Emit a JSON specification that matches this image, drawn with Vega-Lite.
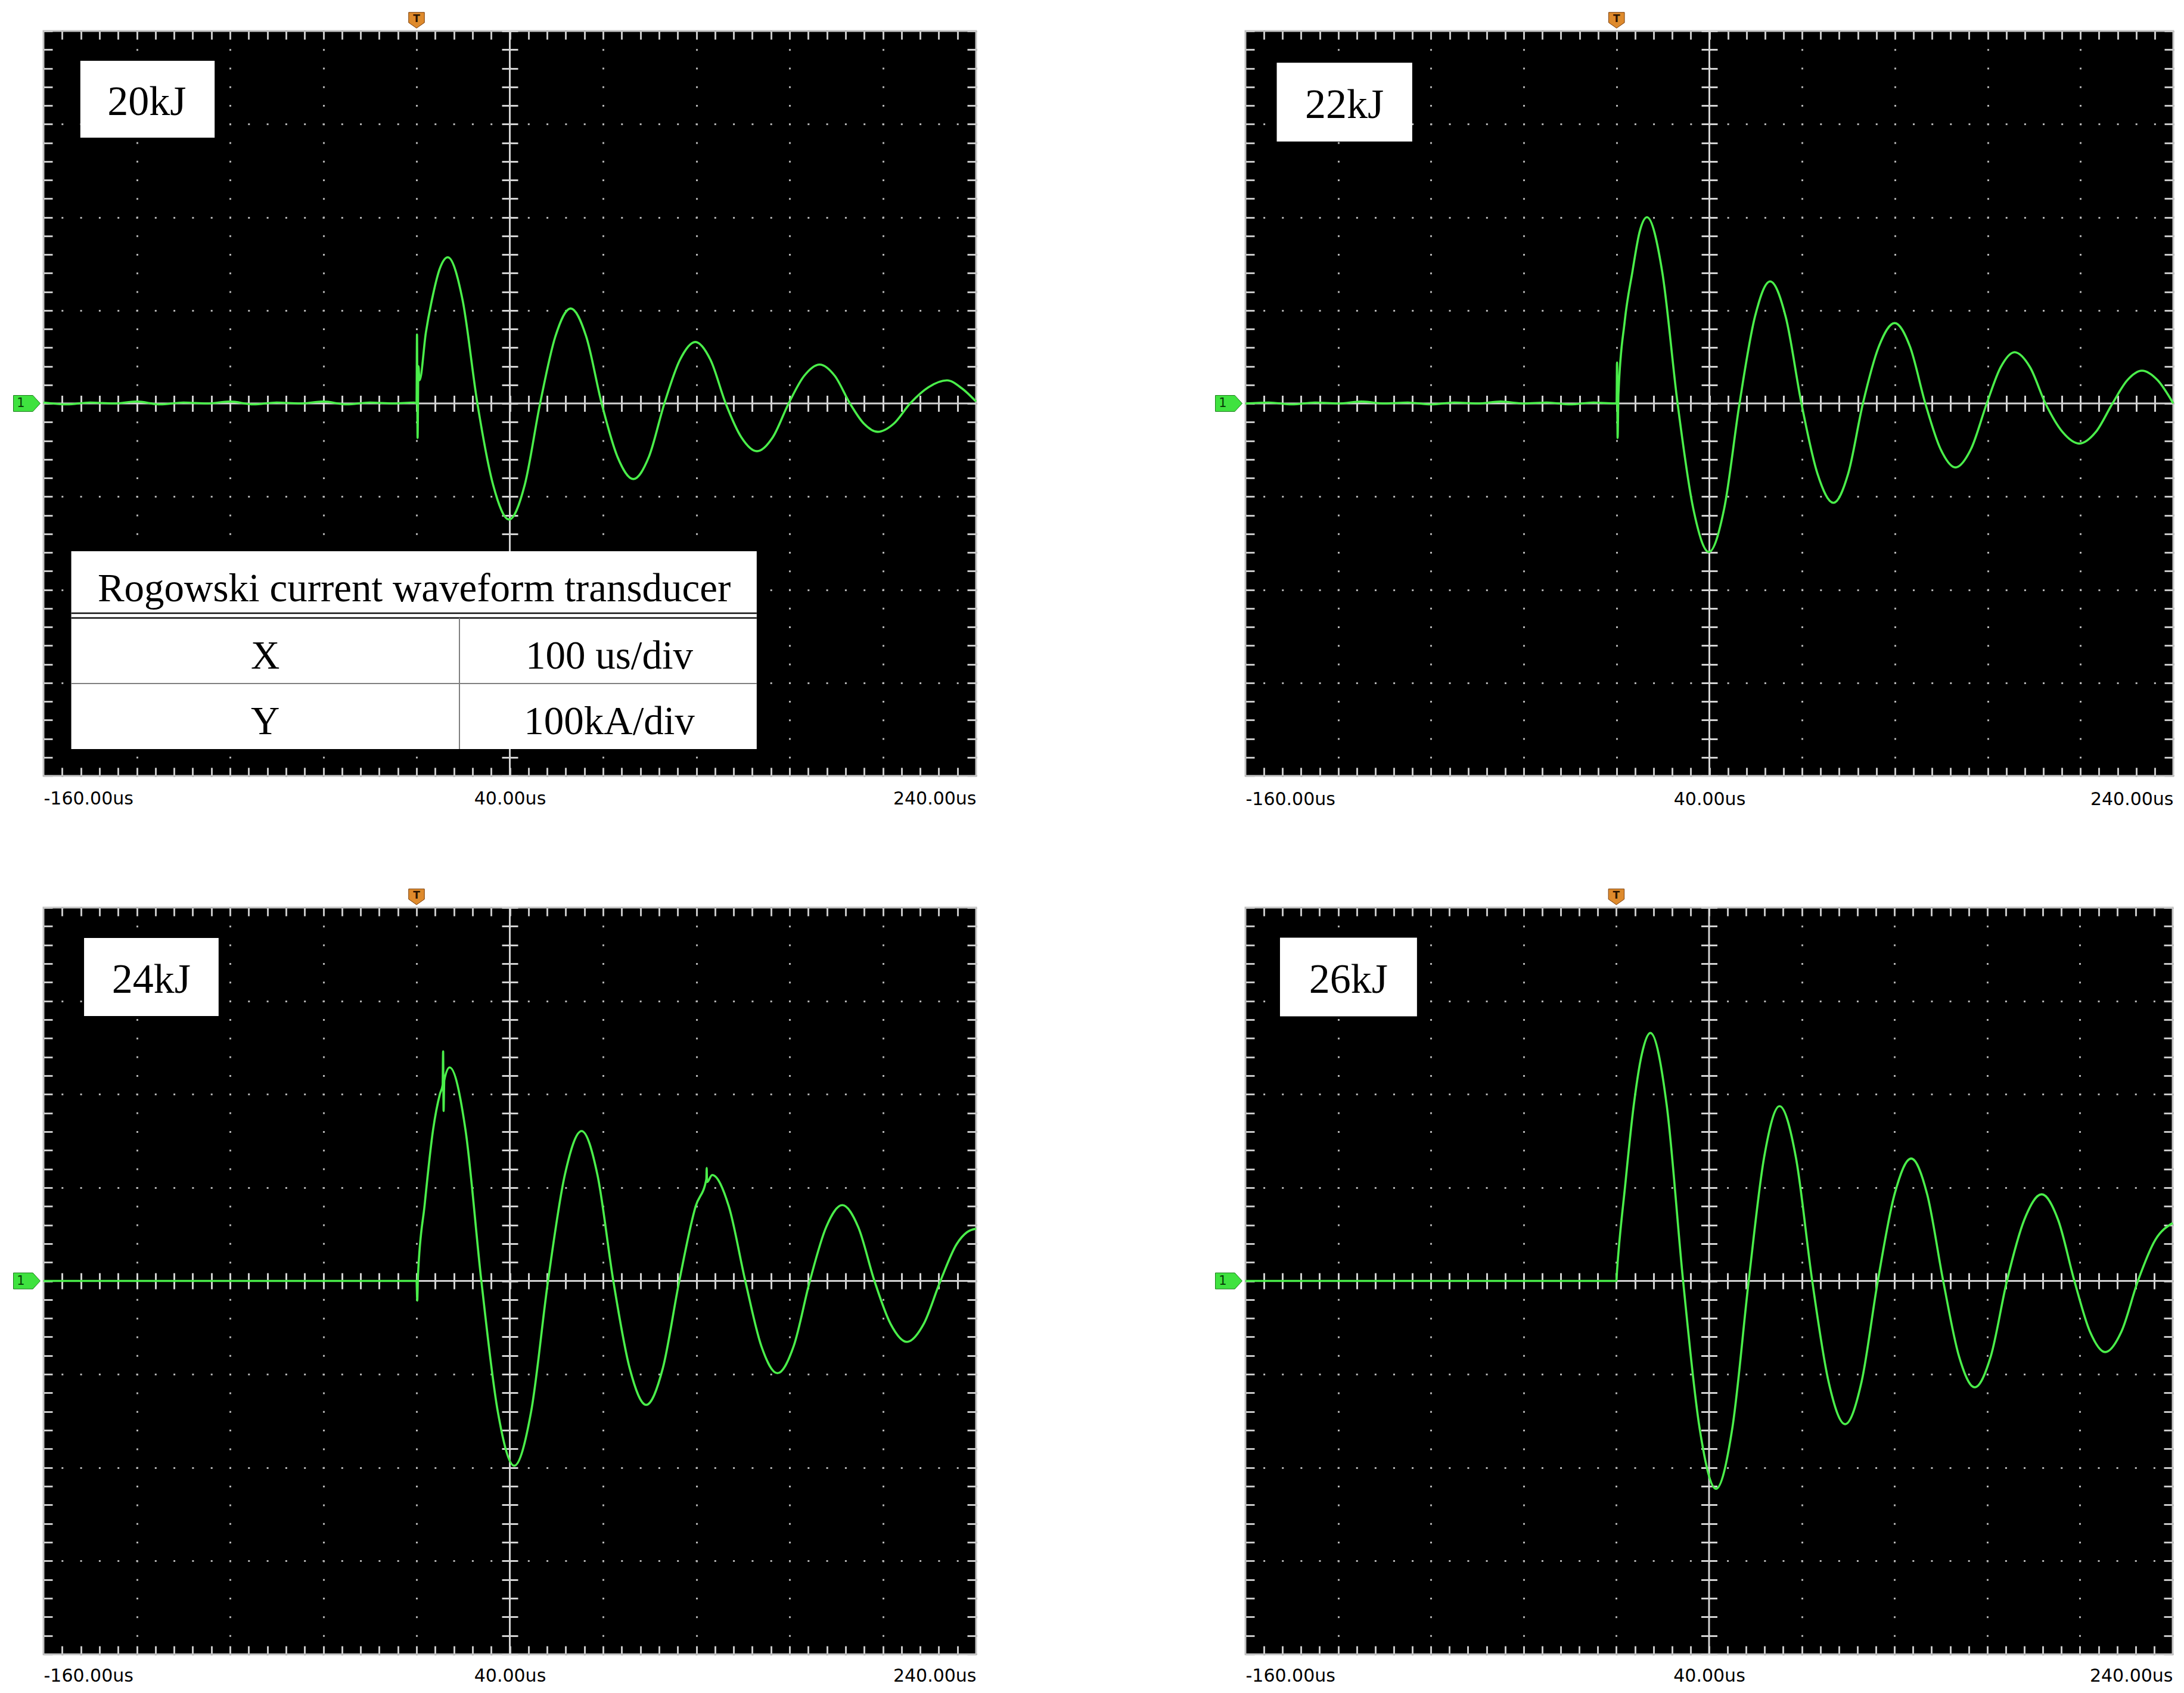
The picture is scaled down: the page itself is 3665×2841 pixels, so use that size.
{
"$schema": "https://vega.github.io/schema/vega-lite/v6.json",
"background": "white",
"padding": {"left": 19, "top": 17, "right": 10, "bottom": 10},
"bounds": "flush",
"columns": 2,
"spacing": {"row": 221, "column": 452},
"config": {"view": {"fill": "black", "stroke": "#c4c4c4", "strokeWidth": 3}, "axis": {"title": null}},
"datasets": {
"waves": [
{"E":"20kJ","t":-160,"I":1},{"E":"20kJ","t":-150,"I":-1},{"E":"20kJ","t":-140,"I":1},{"E":"20kJ","t":-130,"I":0},{"E":"20kJ","t":-120,"I":2},{"E":"20kJ","t":-110,"I":-1},{"E":"20kJ","t":-100,"I":1},{"E":"20kJ","t":-90,"I":0},{"E":"20kJ","t":-80,"I":2},{"E":"20kJ","t":-70,"I":-1},{"E":"20kJ","t":-60,"I":1},{"E":"20kJ","t":-50,"I":0},{"E":"20kJ","t":-40,"I":2},{"E":"20kJ","t":-30,"I":-1},{"E":"20kJ","t":-20,"I":1},{"E":"20kJ","t":-10,"I":0},{"E":"20kJ","t":-1,"I":1},
{"E":"20kJ","t":0,"I":0},{"E":"20kJ","t":0.2,"I":74},{"E":"20kJ","t":0.45,"I":-37},{"E":"20kJ","t":0.8,"I":40},{"E":"20kJ","t":1.3,"I":25},
{"E":"20kJ","t":4,"I":76},{"E":"20kJ","t":7,"I":116},{"E":"20kJ","t":10,"I":145},{"E":"20kJ","t":13.4,"I":157},{"E":"20kJ","t":19.75,"I":111},{"E":"20kJ","t":26.1,"I":0},{"E":"20kJ","t":32.9,"I":-88},{"E":"20kJ","t":39.7,"I":-124.7},{"E":"20kJ","t":46.35,"I":-88},{"E":"20kJ","t":53,"I":0},{"E":"20kJ","t":59.55,"I":72},{"E":"20kJ","t":66.1,"I":102},{"E":"20kJ","t":72.75,"I":72},{"E":"20kJ","t":79.4,"I":0},{"E":"20kJ","t":86.2,"I":-57.4},{"E":"20kJ","t":93,"I":-81.2},{"E":"20kJ","t":99.65,"I":-57.4},{"E":"20kJ","t":106.3,"I":0},{"E":"20kJ","t":112.95,"I":46.7},{"E":"20kJ","t":119.6,"I":66},{"E":"20kJ","t":126.1,"I":46.7},{"E":"20kJ","t":132.6,"I":0},{"E":"20kJ","t":139.3,"I":-36.3},{"E":"20kJ","t":146,"I":-51.3},{"E":"20kJ","t":152.8,"I":-36.3},{"E":"20kJ","t":159.6,"I":0},{"E":"20kJ","t":166.25,"I":29.6},{"E":"20kJ","t":172.9,"I":41.8},{"E":"20kJ","t":179.4,"I":29.6},{"E":"20kJ","t":185.9,"I":0},{"E":"20kJ","t":191.85,"I":-21.6},{"E":"20kJ","t":197.8,"I":-30.5},{"E":"20kJ","t":204.75,"I":-21.6},{"E":"20kJ","t":211.7,"I":0},{"E":"20kJ","t":219.6,"I":17.5},{"E":"20kJ","t":227.5,"I":24.8},{"E":"20kJ","t":234,"I":16},{"E":"20kJ","t":240,"I":2},
{"E":"22kJ","t":-160,"I":0},{"E":"22kJ","t":-150,"I":1},{"E":"22kJ","t":-140,"I":-1},{"E":"22kJ","t":-130,"I":1},{"E":"22kJ","t":-120,"I":0},{"E":"22kJ","t":-110,"I":2},{"E":"22kJ","t":-100,"I":0},{"E":"22kJ","t":-90,"I":1},{"E":"22kJ","t":-80,"I":-1},{"E":"22kJ","t":-70,"I":1},{"E":"22kJ","t":-60,"I":0},{"E":"22kJ","t":-50,"I":2},{"E":"22kJ","t":-40,"I":0},{"E":"22kJ","t":-30,"I":1},{"E":"22kJ","t":-20,"I":-1},{"E":"22kJ","t":-10,"I":1},{"E":"22kJ","t":-1,"I":0},
{"E":"22kJ","t":0,"I":0},{"E":"22kJ","t":0.2,"I":44},{"E":"22kJ","t":0.45,"I":-37},{"E":"22kJ","t":0.8,"I":10},
{"E":"22kJ","t":3.5,"I":88},{"E":"22kJ","t":6.8,"I":141},{"E":"22kJ","t":10,"I":185},{"E":"22kJ","t":13.1,"I":200},{"E":"22kJ","t":19.7,"I":141},{"E":"22kJ","t":26.3,"I":0},{"E":"22kJ","t":33.05,"I":-112.8},{"E":"22kJ","t":39.8,"I":-159.5},{"E":"22kJ","t":46.4,"I":-112.8},{"E":"22kJ","t":53,"I":0},{"E":"22kJ","t":59.6,"I":92.6},{"E":"22kJ","t":66.2,"I":131},{"E":"22kJ","t":72.95,"I":92.6},{"E":"22kJ","t":79.7,"I":0},{"E":"22kJ","t":86.6,"I":-75.4},{"E":"22kJ","t":93.5,"I":-106.7},{"E":"22kJ","t":99.85,"I":-75.4},{"E":"22kJ","t":106.2,"I":0},{"E":"22kJ","t":113.05,"I":61},{"E":"22kJ","t":119.9,"I":86.3},{"E":"22kJ","t":126.5,"I":61},{"E":"22kJ","t":133.1,"I":0},{"E":"22kJ","t":139.6,"I":-48.6},{"E":"22kJ","t":146.1,"I":-68.7},{"E":"22kJ","t":152.85,"I":-48.6},{"E":"22kJ","t":159.6,"I":0},{"E":"22kJ","t":165.6,"I":38.9},{"E":"22kJ","t":171.6,"I":55},{"E":"22kJ","t":178.25,"I":38.9},{"E":"22kJ","t":184.9,"I":0},{"E":"22kJ","t":192.2,"I":-30.5},{"E":"22kJ","t":199.5,"I":-43.1},{"E":"22kJ","t":206.65,"I":-30.5},{"E":"22kJ","t":213.8,"I":0},{"E":"22kJ","t":220.15,"I":24.9},{"E":"22kJ","t":226.5,"I":35.2},{"E":"22kJ","t":233.25,"I":24.9},{"E":"22kJ","t":240,"I":0},
{"E":"24kJ","t":-160,"I":0},{"E":"24kJ","t":-80,"I":0},{"E":"24kJ","t":-1,"I":0},
{"E":"24kJ","t":0,"I":0},{"E":"24kJ","t":0.3,"I":-21},{"E":"24kJ","t":0.6,"I":5},
{"E":"24kJ","t":3.5,"I":82},{"E":"24kJ","t":7.1,"I":162},{"E":"24kJ","t":10,"I":200},{"E":"24kJ","t":11.2,"I":210},{"E":"24kJ","t":11.4,"I":246},{"E":"24kJ","t":11.6,"I":182},{"E":"24kJ","t":11.9,"I":215},{"E":"24kJ","t":14.2,"I":228.7},{"E":"24kJ","t":21,"I":161.7},{"E":"24kJ","t":27.8,"I":0},{"E":"24kJ","t":34.85,"I":-140},{"E":"24kJ","t":41.9,"I":-198},{"E":"24kJ","t":49.15,"I":-140},{"E":"24kJ","t":56.4,"I":0},{"E":"24kJ","t":63.6,"I":113.5},{"E":"24kJ","t":70.8,"I":160.6},{"E":"24kJ","t":77.6,"I":113.5},{"E":"24kJ","t":84.4,"I":0},{"E":"24kJ","t":91.45,"I":-93.9},{"E":"24kJ","t":98.5,"I":-132.8},{"E":"24kJ","t":105.6,"I":-93.9},{"E":"24kJ","t":112.7,"I":0},{"E":"24kJ","t":119.75,"I":80.2},{"E":"24kJ","t":124.3,"I":109},{"E":"24kJ","t":124.45,"I":121},{"E":"24kJ","t":124.6,"I":106},{"E":"24kJ","t":126.8,"I":113.5},{"E":"24kJ","t":133.9,"I":80.2},{"E":"24kJ","t":141,"I":0},{"E":"24kJ","t":147.9,"I":-69.9},{"E":"24kJ","t":154.8,"I":-98.8},{"E":"24kJ","t":161.75,"I":-69.9},{"E":"24kJ","t":168.7,"I":0},{"E":"24kJ","t":175.65,"I":57.4},{"E":"24kJ","t":182.6,"I":81.2},{"E":"24kJ","t":189.5,"I":57.4},{"E":"24kJ","t":196.4,"I":0},{"E":"24kJ","t":203.35,"I":-46.2},{"E":"24kJ","t":210.3,"I":-65.3},{"E":"24kJ","t":217.5,"I":-46.2},{"E":"24kJ","t":224.7,"I":0},{"E":"24kJ","t":231.7,"I":39.6},{"E":"24kJ","t":236,"I":52},{"E":"24kJ","t":240,"I":56},
{"E":"26kJ","t":-160,"I":0},{"E":"26kJ","t":-80,"I":0},{"E":"26kJ","t":-1,"I":0},
{"E":"26kJ","t":0,"I":0},{"E":"26kJ","t":0.3,"I":11},
{"E":"26kJ","t":3.8,"I":102},{"E":"26kJ","t":7.5,"I":188},{"E":"26kJ","t":11,"I":243},{"E":"26kJ","t":14.7,"I":265.7},{"E":"26kJ","t":21.75,"I":187.9},{"E":"26kJ","t":28.8,"I":0},{"E":"26kJ","t":35.9,"I":-157.5},{"E":"26kJ","t":43,"I":-222.7},{"E":"26kJ","t":50.05,"I":-157.5},{"E":"26kJ","t":57.1,"I":0},{"E":"26kJ","t":63.75,"I":132.4},{"E":"26kJ","t":70.4,"I":187.2},{"E":"26kJ","t":77.45,"I":132.4},{"E":"26kJ","t":84.5,"I":0},{"E":"26kJ","t":91.6,"I":-108.5},{"E":"26kJ","t":98.7,"I":-153.5},{"E":"26kJ","t":105.75,"I":-108.5},{"E":"26kJ","t":112.8,"I":0},{"E":"26kJ","t":120,"I":92.7},{"E":"26kJ","t":127.2,"I":131.1},{"E":"26kJ","t":134.1,"I":92.7},{"E":"26kJ","t":141,"I":0},{"E":"26kJ","t":147.8,"I":-80.6},{"E":"26kJ","t":154.6,"I":-114},{"E":"26kJ","t":161.55,"I":-80.6},{"E":"26kJ","t":168.5,"I":0},{"E":"26kJ","t":176,"I":65.6},{"E":"26kJ","t":183.5,"I":92.8},{"E":"26kJ","t":190.55,"I":65.6},{"E":"26kJ","t":197.6,"I":0},{"E":"26kJ","t":204.25,"I":-53.9},{"E":"26kJ","t":210.9,"I":-76.2},{"E":"26kJ","t":217.95,"I":-53.9},{"E":"26kJ","t":225,"I":0},{"E":"26kJ","t":232.5,"I":44},{"E":"26kJ","t":240,"I":62}
],
"boxes": [
{"E":"20kJ","x1":-144.2,"x2":-86.6,"y1":368,"y2":285.4,"tx":-115.7,"ty":309.8},
{"E":"22kJ","x1":-146.5,"x2":-88.1,"y1":365.9,"y2":281.3,"tx":-117.3,"ty":306.7},
{"E":"24kJ","x1":-142.6,"x2":-84.9,"y1":367.5,"y2":283.8,"tx":-113.75,"ty":308.7},
{"E":"26kJ","x1":-145.1,"x2":-86,"y1":367.7,"y2":283.4,"tx":-115.55,"ty":308.5}
],
"tableBox": [{"x1":-148.1,"x2":145.9,"y1":-158.7,"y2":-371.2}],
"tableBlack": [{"x1":-148.1,"x2":145.9,"y1":-225.3,"y2":-225.3},{"x1":-148.1,"x2":145.9,"y1":-230.4,"y2":-230.4}],
"tableGray": [{"x1":-148.1,"x2":145.9,"y1":-300.8,"y2":-300.8},{"x1":18.4,"x2":18.4,"y1":-230.4,"y2":-371.2}],
"tableText": [
{"tx":-1,"ty":-212.5,"label":"Rogowski current waveform transducer"},
{"tx":-64.9,"ty":-284.5,"label":"X"},
{"tx":82.7,"ty":-284.5,"label":"100 us/div"},
{"tx":-64.9,"ty":-355.1,"label":"Y"},
{"tx":82.7,"ty":-355.1,"label":"100kA/div"}
]
},
"concat": [
{
"width": 1565, "height": 1250,
"resolve": {"axis": {"x": "independent", "y": "independent"}},
"layer": [
{"data": {"values": [{}]}, "mark": {"type": "rule", "color": "#d2d2d2", "strokeWidth": 3},
 "encoding": {"x": {"datum": 40, "type": "quantitative", "axis": {"orient": "bottom", "offset": -611.5, "values": [-152,-144,-136,-128,-120,-112,-104,-96,-88,-80,-72,-64,-56,-48,-40,-32,-24,-16,-8,0,8,16,24,32,40,48,56,64,72,80,88,96,104,112,120,128,136,144,152,160,168,176,184,192,200,208,216,224,232], "ticks": true, "tickSize": -27, "tickWidth": 3, "tickColor": "#d2d2d2", "domain": false, "labels": false, "grid": false}}}},
{"data": {"values": [{}]}, "mark": {"type": "rule", "color": "#d2d2d2", "strokeWidth": 3},
 "encoding": {"y": {"datum": 0, "type": "quantitative", "axis": {"orient": "left", "offset": -769, "tickCount": 40, "ticks": true, "tickSize": -27, "tickWidth": 3, "tickColor": "#d2d2d2", "domain": false, "labels": false, "grid": false}}}},
{"data": {"name": "waves"}, "transform": [{"filter": "datum.E == '20kJ'"}],
 "mark": {"type": "line", "color": "#4aee4a", "strokeWidth": 3.6, "interpolate": "monotone"},
 "encoding": {
  "x": {"field": "t", "type": "quantitative", "scale": {"domain": [-160, 240], "nice": false, "zero": false}, "axis": {"orient": "bottom", "values": [-160,-120,-80,-40,0,40,80,120,160,200,240], "grid": true, "gridColor": "#b4b4b4", "gridWidth": 3, "gridDash": [3, 28.25], "gridDashOffset": 1.5, "ticks": false, "domain": false, "labels": true, "labelExpr": "datum.value == -160 ? '-160.00us' : datum.value == 40 ? '40.00us' : datum.value == 240 ? '240.00us' : ''", "labelFlush": true, "labelOverlap": false, "labelFont": "DejaVu Sans", "labelFontSize": 30, "labelColor": "#000000", "labelPadding": 38, "labelBaseline": "middle"}},
  "y": {"field": "I", "type": "quantitative", "scale": {"domain": [-400, 400], "nice": false, "zero": false}, "axis": {"orient": "left", "tickCount": 8, "grid": true, "gridColor": "#b4b4b4", "gridWidth": 3, "gridDash": [3, 28.3], "gridDashOffset": 1.5, "ticks": false, "domain": false, "labels": false}}}},
{"data": {"name": "boxes"}, "transform": [{"filter": "datum.E == '20kJ'"}],
 "mark": {"type": "rect", "color": "white"},
 "encoding": {
  "x": {"field": "x1", "type": "quantitative", "axis": {"orient": "bottom", "values": [-152,-144,-136,-128,-120,-112,-104,-96,-88,-80,-72,-64,-56,-48,-40,-32,-24,-16,-8,0,8,16,24,32,40,48,56,64,72,80,88,96,104,112,120,128,136,144,152,160,168,176,184,192,200,208,216,224,232], "ticks": true, "tickSize": -14, "tickWidth": 3, "tickColor": "#c8c8c8", "domain": false, "labels": false, "grid": false}},
  "x2": {"field": "x2"},
  "y": {"field": "y1", "type": "quantitative", "axis": {"orient": "left", "tickCount": 40, "ticks": true, "tickSize": -15, "tickWidth": 3, "tickColor": "#c8c8c8", "domain": false, "labels": false, "grid": false}},
  "y2": {"field": "y2"}}},
{"data": {"name": "boxes"}, "transform": [{"filter": "datum.E == '20kJ'"}],
 "mark": {"type": "text", "font": "Liberation Serif", "fontSize": 70, "color": "black", "align": "center", "baseline": "alphabetic"},
 "encoding": {
  "x": {"field": "tx", "type": "quantitative", "axis": {"orient": "top", "values": [-152,-144,-136,-128,-120,-112,-104,-96,-88,-80,-72,-64,-56,-48,-40,-32,-24,-16,-8,0,8,16,24,32,40,48,56,64,72,80,88,96,104,112,120,128,136,144,152,160,168,176,184,192,200,208,216,224,232], "ticks": true, "tickSize": -14, "tickWidth": 3, "tickColor": "#c8c8c8", "domain": false, "labels": false, "grid": false}},
  "y": {"field": "ty", "type": "quantitative", "axis": {"orient": "right", "tickCount": 40, "ticks": true, "tickSize": -15, "tickWidth": 3, "tickColor": "#c8c8c8", "domain": false, "labels": false, "grid": false}},
  "text": {"field": "E"}}},
{"data": {"name": "tableBox"}, "mark": {"type": "rect", "color": "white"},
 "encoding": {"x": {"field": "x1", "type": "quantitative", "axis": null}, "x2": {"field": "x2"}, "y": {"field": "y1", "type": "quantitative", "axis": null}, "y2": {"field": "y2"}}},
{"data": {"name": "tableBlack"}, "mark": {"type": "rule", "color": "#111111", "strokeWidth": 2.5},
 "encoding": {"x": {"field": "x1", "type": "quantitative", "axis": null}, "x2": {"field": "x2"}, "y": {"field": "y1", "type": "quantitative", "axis": null}, "y2": {"field": "y2"}}},
{"data": {"name": "tableGray"}, "mark": {"type": "rule", "color": "#808080", "strokeWidth": 2},
 "encoding": {"x": {"field": "x1", "type": "quantitative", "axis": null}, "x2": {"field": "x2"}, "y": {"field": "y1", "type": "quantitative", "axis": null}, "y2": {"field": "y2"}}},
{"data": {"name": "tableText"}, "mark": {"type": "text", "font": "Liberation Serif", "fontSize": 67, "color": "black", "align": "center", "baseline": "alphabetic"},
 "encoding": {"x": {"field": "tx", "type": "quantitative", "axis": null}, "y": {"field": "ty", "type": "quantitative", "axis": null}, "text": {"field": "label"}}},
{"data": {"values": [{}]}, "mark": {"type": "point", "shape": "M -1 -1 L 1 -1 L 1 0.3 L 0 1 L -1 0.3 Z", "size": 700, "filled": true, "fill": "#de8a2c", "stroke": "#7a3c08", "strokeWidth": 1, "opacity": 1, "yOffset": -18},
 "encoding": {"x": {"datum": 0, "type": "quantitative", "axis": null}, "y": {"datum": 400, "type": "quantitative", "axis": null}}},
{"data": {"values": [{}]}, "mark": {"type": "text", "text": "T", "font": "DejaVu Sans", "fontSize": 17, "fontWeight": "bold", "color": "#2b1400", "align": "center", "baseline": "middle", "yOffset": -20},
 "encoding": {"x": {"datum": 0, "type": "quantitative", "axis": null}, "y": {"datum": 400, "type": "quantitative", "axis": null}}},
{"data": {"values": [{}]}, "mark": {"type": "point", "shape": "M -1 -0.6 L 0.45 -0.6 L 1 0 L 0.45 0.6 L -1 0.6 Z", "size": 2025, "filled": true, "fill": "#3fe23f", "stroke": "#1b7d1b", "strokeWidth": 1, "opacity": 1, "xOffset": -28},
 "encoding": {"x": {"datum": -160, "type": "quantitative", "axis": null}, "y": {"datum": 0, "type": "quantitative", "axis": null}}},
{"data": {"values": [{}]}, "mark": {"type": "text", "text": "1", "font": "DejaVu Sans", "fontSize": 21, "color": "#063806", "align": "center", "baseline": "middle", "xOffset": -38},
 "encoding": {"x": {"datum": -160, "type": "quantitative", "axis": null}, "y": {"datum": 0, "type": "quantitative", "axis": null}}}
]
},
{
"width": 1557, "height": 1250,
"resolve": {"axis": {"x": "independent", "y": "independent"}},
"layer": [
{"data": {"values": [{}]}, "mark": {"type": "rule", "color": "#d2d2d2", "strokeWidth": 3},
 "encoding": {"x": {"datum": 40, "type": "quantitative", "axis": {"orient": "bottom", "offset": -611.5, "values": [-152,-144,-136,-128,-120,-112,-104,-96,-88,-80,-72,-64,-56,-48,-40,-32,-24,-16,-8,0,8,16,24,32,40,48,56,64,72,80,88,96,104,112,120,128,136,144,152,160,168,176,184,192,200,208,216,224,232], "ticks": true, "tickSize": -27, "tickWidth": 3, "tickColor": "#d2d2d2", "domain": false, "labels": false, "grid": false}}}},
{"data": {"values": [{}]}, "mark": {"type": "rule", "color": "#d2d2d2", "strokeWidth": 3},
 "encoding": {"y": {"datum": 0, "type": "quantitative", "axis": {"orient": "left", "offset": -765, "tickCount": 40, "ticks": true, "tickSize": -27, "tickWidth": 3, "tickColor": "#d2d2d2", "domain": false, "labels": false, "grid": false}}}},
{"data": {"name": "waves"}, "transform": [{"filter": "datum.E == '22kJ'"}],
 "mark": {"type": "line", "color": "#4aee4a", "strokeWidth": 3.6, "interpolate": "monotone"},
 "encoding": {
  "x": {"field": "t", "type": "quantitative", "scale": {"domain": [-160, 240], "nice": false, "zero": false}, "axis": {"orient": "bottom", "values": [-160,-120,-80,-40,0,40,80,120,160,200,240], "grid": true, "gridColor": "#b4b4b4", "gridWidth": 3, "gridDash": [3, 28.25], "gridDashOffset": 1.5, "ticks": false, "domain": false, "labels": true, "labelExpr": "datum.value == -160 ? '-160.00us' : datum.value == 40 ? '40.00us' : datum.value == 240 ? '240.00us' : ''", "labelFlush": true, "labelOverlap": false, "labelFont": "DejaVu Sans", "labelFontSize": 30, "labelColor": "#000000", "labelPadding": 39, "labelBaseline": "middle"}},
  "y": {"field": "I", "type": "quantitative", "scale": {"domain": [-400, 400], "nice": false, "zero": false}, "axis": {"orient": "left", "tickCount": 8, "grid": true, "gridColor": "#b4b4b4", "gridWidth": 3, "gridDash": [3, 28.14], "gridDashOffset": 1.5, "ticks": false, "domain": false, "labels": false}}}},
{"data": {"name": "boxes"}, "transform": [{"filter": "datum.E == '22kJ'"}],
 "mark": {"type": "rect", "color": "white"},
 "encoding": {
  "x": {"field": "x1", "type": "quantitative", "axis": {"orient": "bottom", "values": [-152,-144,-136,-128,-120,-112,-104,-96,-88,-80,-72,-64,-56,-48,-40,-32,-24,-16,-8,0,8,16,24,32,40,48,56,64,72,80,88,96,104,112,120,128,136,144,152,160,168,176,184,192,200,208,216,224,232], "ticks": true, "tickSize": -14, "tickWidth": 3, "tickColor": "#c8c8c8", "domain": false, "labels": false, "grid": false}},
  "x2": {"field": "x2"},
  "y": {"field": "y1", "type": "quantitative", "axis": {"orient": "left", "tickCount": 40, "ticks": true, "tickSize": -15, "tickWidth": 3, "tickColor": "#c8c8c8", "domain": false, "labels": false, "grid": false}},
  "y2": {"field": "y2"}}},
{"data": {"name": "boxes"}, "transform": [{"filter": "datum.E == '22kJ'"}],
 "mark": {"type": "text", "font": "Liberation Serif", "fontSize": 70, "color": "black", "align": "center", "baseline": "alphabetic"},
 "encoding": {
  "x": {"field": "tx", "type": "quantitative", "axis": {"orient": "top", "values": [-152,-144,-136,-128,-120,-112,-104,-96,-88,-80,-72,-64,-56,-48,-40,-32,-24,-16,-8,0,8,16,24,32,40,48,56,64,72,80,88,96,104,112,120,128,136,144,152,160,168,176,184,192,200,208,216,224,232], "ticks": true, "tickSize": -14, "tickWidth": 3, "tickColor": "#c8c8c8", "domain": false, "labels": false, "grid": false}},
  "y": {"field": "ty", "type": "quantitative", "axis": {"orient": "right", "tickCount": 40, "ticks": true, "tickSize": -15, "tickWidth": 3, "tickColor": "#c8c8c8", "domain": false, "labels": false, "grid": false}},
  "text": {"field": "E"}}},
{"data": {"values": [{}]}, "mark": {"type": "point", "shape": "M -1 -1 L 1 -1 L 1 0.3 L 0 1 L -1 0.3 Z", "size": 700, "filled": true, "fill": "#de8a2c", "stroke": "#7a3c08", "strokeWidth": 1, "opacity": 1, "yOffset": -18},
 "encoding": {"x": {"datum": 0, "type": "quantitative", "axis": null}, "y": {"datum": 400, "type": "quantitative", "axis": null}}},
{"data": {"values": [{}]}, "mark": {"type": "text", "text": "T", "font": "DejaVu Sans", "fontSize": 17, "fontWeight": "bold", "color": "#2b1400", "align": "center", "baseline": "middle", "yOffset": -20},
 "encoding": {"x": {"datum": 0, "type": "quantitative", "axis": null}, "y": {"datum": 400, "type": "quantitative", "axis": null}}},
{"data": {"values": [{}]}, "mark": {"type": "point", "shape": "M -1 -0.6 L 0.45 -0.6 L 1 0 L 0.45 0.6 L -1 0.6 Z", "size": 2025, "filled": true, "fill": "#3fe23f", "stroke": "#1b7d1b", "strokeWidth": 1, "opacity": 1, "xOffset": -28},
 "encoding": {"x": {"datum": -160, "type": "quantitative", "axis": null}, "y": {"datum": 0, "type": "quantitative", "axis": null}}},
{"data": {"values": [{}]}, "mark": {"type": "text", "text": "1", "font": "DejaVu Sans", "fontSize": 21, "color": "#063806", "align": "center", "baseline": "middle", "xOffset": -38},
 "encoding": {"x": {"datum": -160, "type": "quantitative", "axis": null}, "y": {"datum": 0, "type": "quantitative", "axis": null}}}
]
},
{
"width": 1565, "height": 1253,
"resolve": {"axis": {"x": "independent", "y": "independent"}},
"layer": [
{"data": {"values": [{}]}, "mark": {"type": "rule", "color": "#d2d2d2", "strokeWidth": 3},
 "encoding": {"x": {"datum": 40, "type": "quantitative", "axis": {"orient": "bottom", "offset": -613, "values": [-152,-144,-136,-128,-120,-112,-104,-96,-88,-80,-72,-64,-56,-48,-40,-32,-24,-16,-8,0,8,16,24,32,40,48,56,64,72,80,88,96,104,112,120,128,136,144,152,160,168,176,184,192,200,208,216,224,232], "ticks": true, "tickSize": -27, "tickWidth": 3, "tickColor": "#d2d2d2", "domain": false, "labels": false, "grid": false}}}},
{"data": {"values": [{}]}, "mark": {"type": "rule", "color": "#d2d2d2", "strokeWidth": 3},
 "encoding": {"y": {"datum": 0, "type": "quantitative", "axis": {"orient": "left", "offset": -769, "tickCount": 40, "ticks": true, "tickSize": -27, "tickWidth": 3, "tickColor": "#d2d2d2", "domain": false, "labels": false, "grid": false}}}},
{"data": {"name": "waves"}, "transform": [{"filter": "datum.E == '24kJ'"}],
 "mark": {"type": "line", "color": "#4aee4a", "strokeWidth": 3.6, "interpolate": "monotone"},
 "encoding": {
  "x": {"field": "t", "type": "quantitative", "scale": {"domain": [-160, 240], "nice": false, "zero": false}, "axis": {"orient": "bottom", "values": [-160,-120,-80,-40,0,40,80,120,160,200,240], "grid": true, "gridColor": "#b4b4b4", "gridWidth": 3, "gridDash": [3, 28.325], "gridDashOffset": 1.5, "ticks": false, "domain": false, "labels": true, "labelExpr": "datum.value == -160 ? '-160.00us' : datum.value == 40 ? '40.00us' : datum.value == 240 ? '240.00us' : ''", "labelFlush": true, "labelOverlap": false, "labelFont": "DejaVu Sans", "labelFontSize": 30, "labelColor": "#000000", "labelPadding": 36, "labelBaseline": "middle"}},
  "y": {"field": "I", "type": "quantitative", "scale": {"domain": [-400, 400], "nice": false, "zero": false}, "axis": {"orient": "left", "tickCount": 8, "grid": true, "gridColor": "#b4b4b4", "gridWidth": 3, "gridDash": [3, 28.3], "gridDashOffset": 1.5, "ticks": false, "domain": false, "labels": false}}}},
{"data": {"name": "boxes"}, "transform": [{"filter": "datum.E == '24kJ'"}],
 "mark": {"type": "rect", "color": "white"},
 "encoding": {
  "x": {"field": "x1", "type": "quantitative", "axis": {"orient": "bottom", "values": [-152,-144,-136,-128,-120,-112,-104,-96,-88,-80,-72,-64,-56,-48,-40,-32,-24,-16,-8,0,8,16,24,32,40,48,56,64,72,80,88,96,104,112,120,128,136,144,152,160,168,176,184,192,200,208,216,224,232], "ticks": true, "tickSize": -14, "tickWidth": 3, "tickColor": "#c8c8c8", "domain": false, "labels": false, "grid": false}},
  "x2": {"field": "x2"},
  "y": {"field": "y1", "type": "quantitative", "axis": {"orient": "left", "tickCount": 40, "ticks": true, "tickSize": -15, "tickWidth": 3, "tickColor": "#c8c8c8", "domain": false, "labels": false, "grid": false}},
  "y2": {"field": "y2"}}},
{"data": {"name": "boxes"}, "transform": [{"filter": "datum.E == '24kJ'"}],
 "mark": {"type": "text", "font": "Liberation Serif", "fontSize": 70, "color": "black", "align": "center", "baseline": "alphabetic"},
 "encoding": {
  "x": {"field": "tx", "type": "quantitative", "axis": {"orient": "top", "values": [-152,-144,-136,-128,-120,-112,-104,-96,-88,-80,-72,-64,-56,-48,-40,-32,-24,-16,-8,0,8,16,24,32,40,48,56,64,72,80,88,96,104,112,120,128,136,144,152,160,168,176,184,192,200,208,216,224,232], "ticks": true, "tickSize": -14, "tickWidth": 3, "tickColor": "#c8c8c8", "domain": false, "labels": false, "grid": false}},
  "y": {"field": "ty", "type": "quantitative", "axis": {"orient": "right", "tickCount": 40, "ticks": true, "tickSize": -15, "tickWidth": 3, "tickColor": "#c8c8c8", "domain": false, "labels": false, "grid": false}},
  "text": {"field": "E"}}},
{"data": {"values": [{}]}, "mark": {"type": "point", "shape": "M -1 -1 L 1 -1 L 1 0.3 L 0 1 L -1 0.3 Z", "size": 700, "filled": true, "fill": "#de8a2c", "stroke": "#7a3c08", "strokeWidth": 1, "opacity": 1, "yOffset": -18},
 "encoding": {"x": {"datum": 0, "type": "quantitative", "axis": null}, "y": {"datum": 400, "type": "quantitative", "axis": null}}},
{"data": {"values": [{}]}, "mark": {"type": "text", "text": "T", "font": "DejaVu Sans", "fontSize": 17, "fontWeight": "bold", "color": "#2b1400", "align": "center", "baseline": "middle", "yOffset": -20},
 "encoding": {"x": {"datum": 0, "type": "quantitative", "axis": null}, "y": {"datum": 400, "type": "quantitative", "axis": null}}},
{"data": {"values": [{}]}, "mark": {"type": "point", "shape": "M -1 -0.6 L 0.45 -0.6 L 1 0 L 0.45 0.6 L -1 0.6 Z", "size": 2025, "filled": true, "fill": "#3fe23f", "stroke": "#1b7d1b", "strokeWidth": 1, "opacity": 1, "xOffset": -28},
 "encoding": {"x": {"datum": -160, "type": "quantitative", "axis": null}, "y": {"datum": 0, "type": "quantitative", "axis": null}}},
{"data": {"values": [{}]}, "mark": {"type": "text", "text": "1", "font": "DejaVu Sans", "fontSize": 21, "color": "#063806", "align": "center", "baseline": "middle", "xOffset": -38},
 "encoding": {"x": {"datum": -160, "type": "quantitative", "axis": null}, "y": {"datum": 0, "type": "quantitative", "axis": null}}}
]
},
{
"width": 1556, "height": 1253,
"resolve": {"axis": {"x": "independent", "y": "independent"}},
"layer": [
{"data": {"values": [{}]}, "mark": {"type": "rule", "color": "#d2d2d2", "strokeWidth": 3},
 "encoding": {"x": {"datum": 40, "type": "quantitative", "axis": {"orient": "bottom", "offset": -613, "values": [-152,-144,-136,-128,-120,-112,-104,-96,-88,-80,-72,-64,-56,-48,-40,-32,-24,-16,-8,0,8,16,24,32,40,48,56,64,72,80,88,96,104,112,120,128,136,144,152,160,168,176,184,192,200,208,216,224,232], "ticks": true, "tickSize": -27, "tickWidth": 3, "tickColor": "#d2d2d2", "domain": false, "labels": false, "grid": false}}}},
{"data": {"values": [{}]}, "mark": {"type": "rule", "color": "#d2d2d2", "strokeWidth": 3},
 "encoding": {"y": {"datum": 0, "type": "quantitative", "axis": {"orient": "left", "offset": -764.5, "tickCount": 40, "ticks": true, "tickSize": -27, "tickWidth": 3, "tickColor": "#d2d2d2", "domain": false, "labels": false, "grid": false}}}},
{"data": {"name": "waves"}, "transform": [{"filter": "datum.E == '26kJ'"}],
 "mark": {"type": "line", "color": "#4aee4a", "strokeWidth": 3.6, "interpolate": "monotone"},
 "encoding": {
  "x": {"field": "t", "type": "quantitative", "scale": {"domain": [-160, 240], "nice": false, "zero": false}, "axis": {"orient": "bottom", "values": [-160,-120,-80,-40,0,40,80,120,160,200,240], "grid": true, "gridColor": "#b4b4b4", "gridWidth": 3, "gridDash": [3, 28.325], "gridDashOffset": 1.5, "ticks": false, "domain": false, "labels": true, "labelExpr": "datum.value == -160 ? '-160.00us' : datum.value == 40 ? '40.00us' : datum.value == 240 ? '240.00us' : ''", "labelFlush": true, "labelOverlap": false, "labelFont": "DejaVu Sans", "labelFontSize": 30, "labelColor": "#000000", "labelPadding": 36, "labelBaseline": "middle"}},
  "y": {"field": "I", "type": "quantitative", "scale": {"domain": [-400, 400], "nice": false, "zero": false}, "axis": {"orient": "left", "tickCount": 8, "grid": true, "gridColor": "#b4b4b4", "gridWidth": 3, "gridDash": [3, 28.12], "gridDashOffset": 1.5, "ticks": false, "domain": false, "labels": false}}}},
{"data": {"name": "boxes"}, "transform": [{"filter": "datum.E == '26kJ'"}],
 "mark": {"type": "rect", "color": "white"},
 "encoding": {
  "x": {"field": "x1", "type": "quantitative", "axis": {"orient": "bottom", "values": [-152,-144,-136,-128,-120,-112,-104,-96,-88,-80,-72,-64,-56,-48,-40,-32,-24,-16,-8,0,8,16,24,32,40,48,56,64,72,80,88,96,104,112,120,128,136,144,152,160,168,176,184,192,200,208,216,224,232], "ticks": true, "tickSize": -14, "tickWidth": 3, "tickColor": "#c8c8c8", "domain": false, "labels": false, "grid": false}},
  "x2": {"field": "x2"},
  "y": {"field": "y1", "type": "quantitative", "axis": {"orient": "left", "tickCount": 40, "ticks": true, "tickSize": -15, "tickWidth": 3, "tickColor": "#c8c8c8", "domain": false, "labels": false, "grid": false}},
  "y2": {"field": "y2"}}},
{"data": {"name": "boxes"}, "transform": [{"filter": "datum.E == '26kJ'"}],
 "mark": {"type": "text", "font": "Liberation Serif", "fontSize": 70, "color": "black", "align": "center", "baseline": "alphabetic"},
 "encoding": {
  "x": {"field": "tx", "type": "quantitative", "axis": {"orient": "top", "values": [-152,-144,-136,-128,-120,-112,-104,-96,-88,-80,-72,-64,-56,-48,-40,-32,-24,-16,-8,0,8,16,24,32,40,48,56,64,72,80,88,96,104,112,120,128,136,144,152,160,168,176,184,192,200,208,216,224,232], "ticks": true, "tickSize": -14, "tickWidth": 3, "tickColor": "#c8c8c8", "domain": false, "labels": false, "grid": false}},
  "y": {"field": "ty", "type": "quantitative", "axis": {"orient": "right", "tickCount": 40, "ticks": true, "tickSize": -15, "tickWidth": 3, "tickColor": "#c8c8c8", "domain": false, "labels": false, "grid": false}},
  "text": {"field": "E"}}},
{"data": {"values": [{}]}, "mark": {"type": "point", "shape": "M -1 -1 L 1 -1 L 1 0.3 L 0 1 L -1 0.3 Z", "size": 700, "filled": true, "fill": "#de8a2c", "stroke": "#7a3c08", "strokeWidth": 1, "opacity": 1, "yOffset": -18},
 "encoding": {"x": {"datum": 0, "type": "quantitative", "axis": null}, "y": {"datum": 400, "type": "quantitative", "axis": null}}},
{"data": {"values": [{}]}, "mark": {"type": "text", "text": "T", "font": "DejaVu Sans", "fontSize": 17, "fontWeight": "bold", "color": "#2b1400", "align": "center", "baseline": "middle", "yOffset": -20},
 "encoding": {"x": {"datum": 0, "type": "quantitative", "axis": null}, "y": {"datum": 400, "type": "quantitative", "axis": null}}},
{"data": {"values": [{}]}, "mark": {"type": "point", "shape": "M -1 -0.6 L 0.45 -0.6 L 1 0 L 0.45 0.6 L -1 0.6 Z", "size": 2025, "filled": true, "fill": "#3fe23f", "stroke": "#1b7d1b", "strokeWidth": 1, "opacity": 1, "xOffset": -28},
 "encoding": {"x": {"datum": -160, "type": "quantitative", "axis": null}, "y": {"datum": 0, "type": "quantitative", "axis": null}}},
{"data": {"values": [{}]}, "mark": {"type": "text", "text": "1", "font": "DejaVu Sans", "fontSize": 21, "color": "#063806", "align": "center", "baseline": "middle", "xOffset": -38},
 "encoding": {"x": {"datum": -160, "type": "quantitative", "axis": null}, "y": {"datum": 0, "type": "quantitative", "axis": null}}}
]
}
]
}
